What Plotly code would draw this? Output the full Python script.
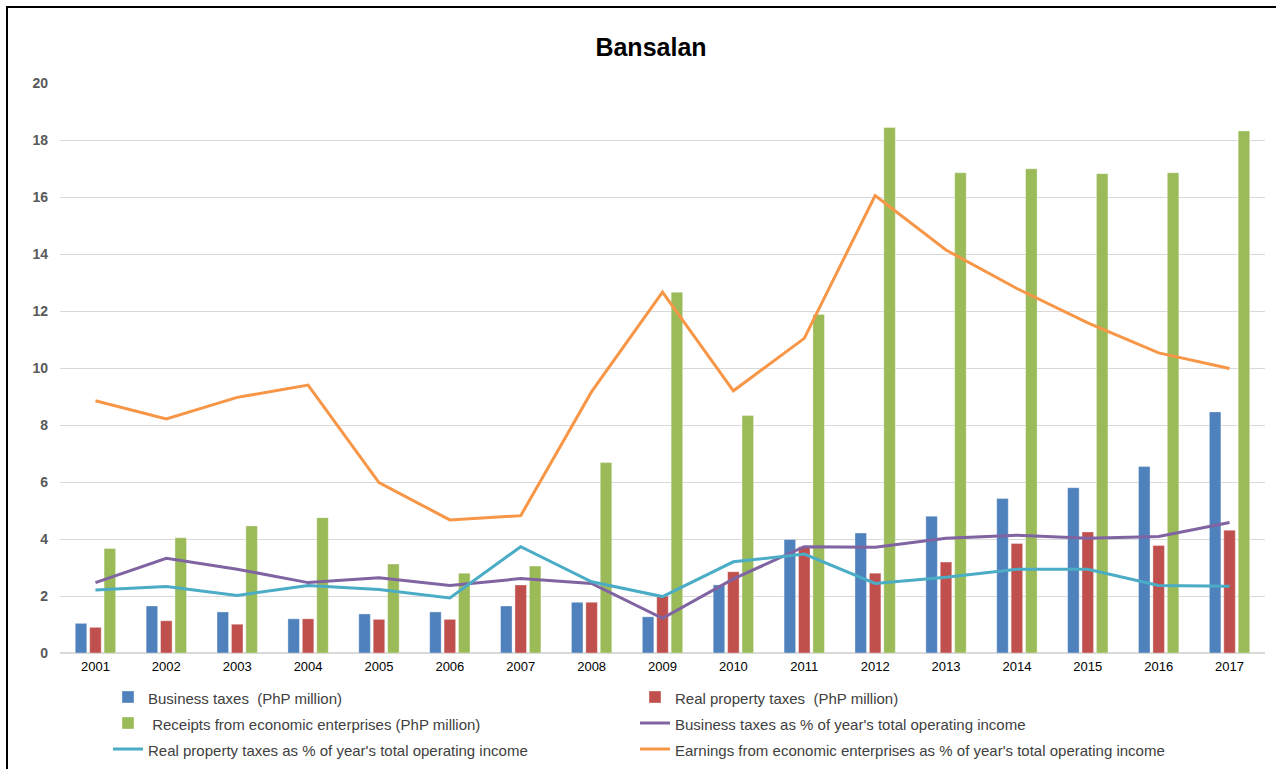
import plotly.graph_objects as go

years = [str(y) for y in range(2001, 2018)]

business_taxes = [1.04, 1.65, 1.44, 1.20, 1.37, 1.44, 1.65, 1.78, 1.27, 2.39, 3.98, 4.21, 4.80, 5.42, 5.80, 6.54, 8.46]
real_property_taxes = [0.90, 1.13, 1.01, 1.20, 1.18, 1.18, 2.39, 1.78, 2.00, 2.85, 3.73, 2.80, 3.19, 3.84, 4.25, 3.77, 4.31]
receipts_econ = [3.67, 4.04, 4.46, 4.75, 3.12, 2.80, 3.05, 6.68, 12.66, 8.33, 11.88, 18.44, 16.85, 16.99, 16.82, 16.85, 18.32]
business_pct = [2.47, 3.32, 2.94, 2.47, 2.64, 2.37, 2.61, 2.44, 1.22, 2.60, 3.73, 3.71, 4.03, 4.13, 4.03, 4.09, 4.58]
real_property_pct = [2.21, 2.33, 2.02, 2.37, 2.23, 1.93, 3.73, 2.50, 1.98, 3.20, 3.47, 2.44, 2.66, 2.94, 2.94, 2.37, 2.34]
earnings_pct = [8.85, 8.21, 8.97, 9.40, 5.98, 4.67, 4.82, 9.17, 12.66, 9.20, 11.04, 16.05, 14.14, 12.79, 11.58, 10.53, 9.98]

names = [
    "Business taxes  (PhP million)",
    "Real property taxes  (PhP million)",
    " Receipts from economic enterprises (PhP million)",
    "Business taxes as % of year's total operating income",
    "Real property taxes as % of year's total operating income",
    "Earnings from economic enterprises as % of year's total operating income",
]

W, H = 1276, 769
L, R, T, B = 60, 11, 83, 116
pw, ph = W - L - R, H - T - B

def px(x):
    return (x - L) / pw

def py(y):
    return (H - B - y) / ph

def lbl(s):
    return '<span style="font-size:15px">' + s + '</span>'

fig = go.Figure()
fig.add_trace(go.Bar(x=years, y=business_taxes, name=lbl(names[0]), marker_color="#4F81BD",
                     legend="legend"))
fig.add_trace(go.Bar(x=years, y=real_property_taxes, name=lbl(names[1]), marker_color="#C0504D",
                     legend="legend2"))
fig.add_trace(go.Bar(x=years, y=receipts_econ, name=lbl(names[2]), marker_color="#9BBB59",
                     legend="legend"))
fig.add_trace(go.Scatter(x=years, y=business_pct, name=lbl(names[3]), mode="lines",
                         line=dict(color="#8064A2", width=3), legend="legend2"))
fig.add_trace(go.Scatter(x=years, y=real_property_pct, name=lbl(names[4]), mode="lines",
                         line=dict(color="#4BACC6", width=3), legend="legend"))
fig.add_trace(go.Scatter(x=years, y=earnings_pct, name=lbl(names[5]), mode="lines",
                         line=dict(color="#F79646", width=3), legend="legend2"))

fig.update_traces(marker_line_width=0.6, marker_line_color="rgba(255,255,255,0.6)",
                  selector=dict(type="bar"))

leg_common = dict(orientation="v", xanchor="left", yanchor="top", itemwidth=30,
                  font=dict(size=17.7, color="#404040"), traceorder="normal",
                  bgcolor="rgba(0,0,0,0)")

fig.update_layout(
    width=W, height=H,
    margin=dict(l=L, r=R, t=T, b=B, autoexpand=False),
    paper_bgcolor="white", plot_bgcolor="white",
    font=dict(family="Liberation Sans, Arial, sans-serif", color="#000000"),
    title=dict(text="<b>Bansalan</b>", x=px(651), xref="paper", xanchor="center",
               y=1 - 47 / H, yanchor="middle",
               font=dict(size=25, color="#000000")),
    barmode="group", bargap=0.39, bargroupgap=0.2,
    showlegend=True,
    legend=dict(x=px(108), y=py(679), **leg_common),
    legend2=dict(x=px(635), y=py(679), **leg_common),
    xaxis=dict(type="category", showgrid=False, ticks="", showline=False,
               ticklabelstandoff=4,
               tickfont=dict(size=13, color="#000000")),
    yaxis=dict(range=[0, 20], dtick=2, showgrid=True, gridcolor="#D9D9D9", gridwidth=1,
               zeroline=True, zerolinecolor="#D9D9D9", zerolinewidth=1.5,
               ticks="", showline=False, ticklabelstandoff=11,
               tickfont=dict(size=14, color="#595959", weight="bold")),
    shapes=[dict(type="rect", xref="paper", yref="paper",
                 x0=px(7), x1=px(1290), y0=py(785), y1=py(7),
                 line=dict(color="#000000", width=2), fillcolor="rgba(0,0,0,0)", layer="above")],
)

fig.write_html("out.html")
